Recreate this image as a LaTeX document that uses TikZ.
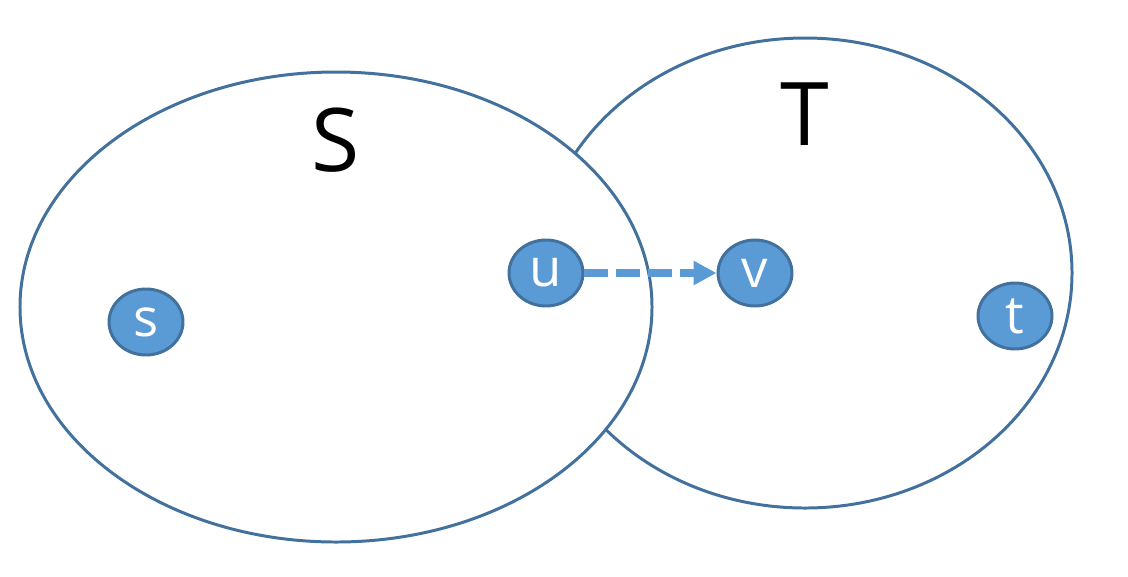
\documentclass[tikz,border=0pt]{standalone}
\usepackage{fontspec}
\setmainfont{Open Sans}
\usetikzlibrary{shapes.geometric,arrows.meta}
\definecolor{rim}{HTML}{41719C}
\definecolor{fillb}{HTML}{5B9BD5}
\tikzset{
	vtx/.style={ellipse,draw=rim,fill=fillb,line width=1.7pt,minimum width=1.48cm,minimum height=1.32cm,inner sep=0pt,text=white,font=\fontsize{30}{32}\selectfont},
	setline/.style={draw=rim,line width=1.7pt}
}
\begin{document}
\begin{tikzpicture}[x=0.02cm,y=-0.02cm,line join=round]
		\useasboundingbox (0,0) rectangle (1128,576);
		% the two sets
		\draw[setline] (805,273) ellipse [x radius=267,y radius=235];
		\draw[setline,fill=white] (336,307) ellipse [x radius=316,y radius=235];
		\node[font=\fontsize{50}{52}\selectfont] (labS) at (336,140) {S};
		\node[font=\fontsize{50}{52}\selectfont] (labT) at (805,114) {T};
		% vertices
		\node[vtx] (s) at (146,322) {s};
		\node[vtx] (u) at (546,273) {u};
		\node[vtx] (v) at (755,273) {v};
		\node[vtx] (t) at (1015,316) {t};
		\draw[fillb,line width=4pt,dash pattern=on 13.6pt off 4.6pt,-{Triangle[length=13pt,width=13pt]}] (u) -- (v);
		\end{tikzpicture}
\end{document}
